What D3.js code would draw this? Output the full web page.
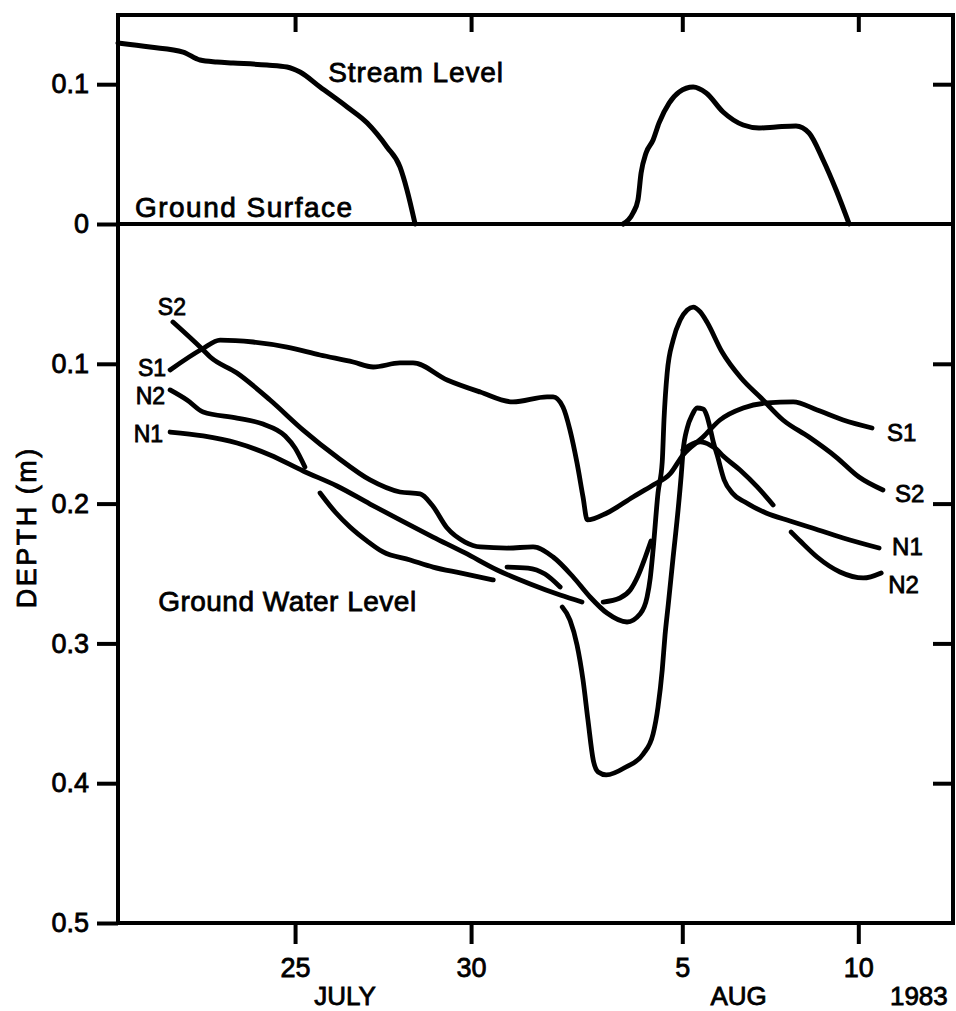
<!DOCTYPE html>
<html>
<head>
<meta charset="utf-8">
<script src="https://cdn.jsdelivr.net/npm/d3@7"></script>
<style>
  body { margin: 0; background: #fff; }
  svg text { font-family: "Liberation Sans", Arial, sans-serif; fill: #000; stroke: #000; stroke-width: 0.8px; }
</style>
</head>
<body>
<svg class="chart" width="956" height="1011"></svg>
<script>
const width = 956;
const height = 1011;
const margin = { top: 15, right: 3, bottom: 88, left: 118 };

// days are counted from 1 July 1983 (so 36 = 5 Aug)
const xTicks = [25, 30, 36, 41];
const xTickLabels = ["25", "30", "5", "10"];
const yTicks = [-0.1, 0, 0.1, 0.2, 0.3, 0.4, 0.5];
const yTickLabels = ["0.1", "0", "0.1", "0.2", "0.3", "0.4", "0.5"];
const yTicksRight = [-0.1, 0.1, 0.2, 0.3, 0.4];

// stream level above the ground surface (m), two wet periods
const streamLevel = [
  [[19.97, 0.1295], [20.88, 0.1266], [21.82, 0.123], [22.30, 0.1173], [22.78, 0.1159], [23.24, 0.1152],
   [24.20, 0.1137], [24.77, 0.1123], [25.14, 0.1087], [25.71, 0.098], [26.48, 0.0837], [27.05, 0.0722],
   [27.61, 0.0551], [27.98, 0.0408], [28.18, 0.0243], [28.41, 0]],
  [[34.32, 0], [34.60, 0.0079], [34.74, 0.0172], [34.83, 0.0365], [34.97, 0.0508], [35.17, 0.0601],
   [35.34, 0.0723], [35.63, 0.0866], [35.91, 0.0944], [36.31, 0.098], [36.68, 0.0937], [37.16, 0.0801],
   [37.73, 0.0708], [38.18, 0.0687], [38.66, 0.0694], [39.23, 0.0701], [39.60, 0.0651], [40.00, 0.0458],
   [40.37, 0.0243], [40.74, 0]]
];

// ground water depth below ground surface (m), one array per measured stretch
const wellS1 = [
  [[21.45, 0.1044], [22.36, 0.0894], [22.87, 0.083], [23.81, 0.0844], [24.77, 0.088], [25.71, 0.0937],
   [26.65, 0.0987], [27.22, 0.1023], [27.98, 0.0994], [28.35, 0.0994], [29.32, 0.1116], [30.26, 0.1202],
   [31.19, 0.1273], [32.16, 0.1237], [32.33, 0.1237], [32.61, 0.1309], [32.81, 0.1474], [33.01, 0.171],
   [33.18, 0.1953], [33.30, 0.2117], [33.86, 0.2067], [34.60, 0.1953], [35.17, 0.1867], [35.65, 0.1788],
   [36.02, 0.1652], [36.59, 0.1524], [37.07, 0.1402], [37.73, 0.1316], [38.41, 0.128], [39.15, 0.1273],
   [39.83, 0.133], [40.57, 0.1402], [41.39, 0.1459]]
];

const wellS2 = [
  [[21.53, 0.0701], [22.36, 0.0894], [22.59, 0.0951], [23.35, 0.1066], [24.29, 0.1259], [25.23, 0.1474],
   [26.19, 0.1667], [27.13, 0.1831], [27.98, 0.1917], [28.55, 0.1931], [28.89, 0.201], [29.32, 0.2175],
   [29.83, 0.2275], [30.26, 0.231], [31.02, 0.2318], [31.76, 0.231], [32.33, 0.2382], [32.90, 0.2525],
   [33.38, 0.2668], [33.86, 0.2783], [34.43, 0.2847], [34.80, 0.279], [35.00, 0.2668], [35.09, 0.2532],
   [35.17, 0.2332], [35.31, 0.1924], [35.43, 0.1702], [35.48, 0.1402], [35.57, 0.1066], [35.74, 0.083],
   [35.94, 0.0687], [36.14, 0.0615], [36.31, 0.0594], [36.51, 0.0629], [36.70, 0.0701], [37.13, 0.0916],
   [37.67, 0.1102], [38.24, 0.1245], [38.86, 0.1402], [39.60, 0.1524], [40.37, 0.1667], [41.02, 0.181],
   [41.70, 0.1903]]
];

const wellN1 = [
  [[21.45, 0.1488], [22.39, 0.1516], [23.35, 0.1567], [24.29, 0.1652], [25.23, 0.1767], [26.19, 0.1874],
   [27.13, 0.2003], [27.98, 0.2117], [28.92, 0.2239], [29.83, 0.2353], [30.74, 0.2475], [31.68, 0.2575],
   [32.53, 0.2654], [33.15, 0.2704]],
  [[32.59, 0.274], [32.81, 0.2833], [33.01, 0.3011], [33.18, 0.3262], [33.32, 0.3548], [33.47, 0.3834],
   [33.61, 0.392], [33.84, 0.3941], [34.40, 0.3884], [34.89, 0.3791], [35.17, 0.3648], [35.31, 0.3455],
   [35.43, 0.319], [35.51, 0.294], [35.60, 0.2725], [35.74, 0.2382], [35.88, 0.2046], [35.97, 0.1795],
   [36.02, 0.1631], [36.14, 0.1459], [36.28, 0.1366], [36.42, 0.1316], [36.59, 0.1323], [36.70, 0.1373],
   [36.79, 0.1459], [36.88, 0.1559], [36.99, 0.1652], [37.19, 0.1831], [37.42, 0.1924], [37.78, 0.1989],
   [38.38, 0.2067], [39.06, 0.2124], [39.60, 0.2167], [40.57, 0.2246], [41.59, 0.2318]]
];

const wellN2 = [
  [[21.45, 0.1187], [21.93, 0.1259], [22.39, 0.1345], [23.35, 0.1388], [24.09, 0.1431], [24.72, 0.1516],
   [25.00, 0.1602], [25.28, 0.1738]],
  [[25.71, 0.1924], [26.14, 0.206], [26.56, 0.2167], [27.05, 0.2268], [27.50, 0.2346], [28.27, 0.2403],
   [28.92, 0.2454], [29.69, 0.2496], [30.63, 0.2546]],
  [[31.02, 0.2454], [31.62, 0.2461], [32.10, 0.2504], [32.53, 0.2597]],
  [[33.75, 0.2704], [34.23, 0.2675], [34.52, 0.2618], [34.74, 0.2518], [34.94, 0.2389], [35.11, 0.2268]],
  [[36.02, 0.1617], [36.22, 0.1581], [36.51, 0.1559], [36.79, 0.1581], [36.96, 0.1609], [37.16, 0.166],
   [37.64, 0.176], [38.13, 0.1881], [38.58, 0.201]],
  [[39.09, 0.2203], [39.35, 0.2268], [39.83, 0.2382], [40.48, 0.2489], [41.14, 0.2532], [41.65, 0.2496]]
];

const wells = [
  { name: "S1", segments: wellS1, start: { dx: -4, dy: 6, anchor: "end" }, end: { dx: 15, dy: 13 } },
  { name: "S2", segments: wellS2, start: { dx: -1, dy: -7, anchor: "middle" }, end: { dx: 12, dy: 12 } },
  { name: "N1", segments: wellN1, start: { dx: -7, dy: 10, anchor: "end" }, end: { dx: 13, dy: 7 } },
  { name: "N2", segments: wellN2, start: { dx: -5, dy: 14, anchor: "end" }, end: { dx: 7, dy: 20 } }
];

const svg = d3.select(".chart");

const x = d3.scaleLinear()
  .domain([19.97, 43.69])
  .range([margin.left, width - margin.right]);

const y = d3.scaleLinear()
  .domain([-0.1495, 0.5])
  .range([margin.top, height - margin.bottom]);

const line = d3.line()
  .x(d => x(d[0]))
  .y(d => y(d[1]))
  .curve(d3.curveMonotoneX);

// axes
function styleAxis(g) {
  g.select(".domain").remove();
  g.selectAll(".tick line").attr("stroke", "#000").attr("stroke-width", 4);
  g.selectAll(".tick text").attr("fill", "#000").attr("font-family", null);
}

svg.append("g")
  .attr("transform", `translate(${margin.left},0)`)
  .call(d3.axisLeft(y).tickValues(yTicks).tickSize(21).tickPadding(8)
    .tickFormat((d, i) => yTickLabels[i]))
  .call(styleAxis)
  .selectAll("text").attr("font-size", 27);

svg.append("g")
  .attr("transform", `translate(${width - margin.right},0)`)
  .call(d3.axisLeft(y).tickValues(yTicksRight).tickSize(20).tickFormat(""))
  .call(styleAxis);

svg.append("g")
  .attr("transform", `translate(0,${height - margin.bottom})`)
  .call(d3.axisBottom(x).tickValues(xTicks).tickSize(21).tickPadding(14)
    .tickFormat((d, i) => xTickLabels[i]))
  .call(styleAxis)
  .selectAll("text").attr("font-size", 27);

svg.append("g")
  .attr("transform", `translate(0,${margin.top})`)
  .call(d3.axisBottom(x).tickValues(xTicks).tickSize(17).tickFormat(""))
  .call(styleAxis);

// frame and ground surface
svg.append("rect")
  .attr("x", margin.left)
  .attr("y", margin.top)
  .attr("width", width - margin.left - margin.right)
  .attr("height", height - margin.top - margin.bottom)
  .attr("fill", "none")
  .attr("stroke", "#000")
  .attr("stroke-width", 4);

svg.append("line")
  .attr("x1", margin.left)
  .attr("x2", width - margin.right)
  .attr("y1", y(0))
  .attr("y2", y(0))
  .attr("stroke", "#000")
  .attr("stroke-width", 4);

// stream level (plotted above ground surface)
svg.append("g")
  .selectAll("path")
  .data(streamLevel)
  .join("path")
  .attr("d", seg => line(seg.map(d => [d[0], -d[1]])))
  .attr("fill", "none")
  .attr("stroke", "#000")
  .attr("stroke-width", 5)
  .attr("stroke-linecap", "round")
  .attr("stroke-linejoin", "round");

// ground water curves
const wellGroups = svg.append("g")
  .selectAll("g")
  .data(wells)
  .join("g");

wellGroups.selectAll("path")
  .data(d => d.segments)
  .join("path")
  .attr("d", line)
  .attr("fill", "none")
  .attr("stroke", "#000")
  .attr("stroke-width", 4.8)
  .attr("stroke-linecap", "round")
  .attr("stroke-linejoin", "round");

wellGroups.append("text")
  .attr("x", d => x(d.segments[0][0][0]) + d.start.dx)
  .attr("y", d => y(d.segments[0][0][1]) + d.start.dy)
  .attr("text-anchor", d => d.start.anchor)
  .attr("font-size", 23)
  .text(d => d.name);

wellGroups.append("text")
  .attr("x", d => { const s = d.segments[d.segments.length - 1]; return x(s[s.length - 1][0]) + d.end.dx; })
  .attr("y", d => { const s = d.segments[d.segments.length - 1]; return y(s[s.length - 1][1]) + d.end.dy; })
  .attr("font-size", 24)
  .text(d => d.name);

// annotations
const notes = [
  { text: "Stream Level", day: 25.94, depth: -0.1016, spacing: 0.9 },
  { text: "Ground Surface", day: 20.45, depth: -0.005, spacing: 1.5 },
  { text: "Ground Water Level", day: 21.11, depth: 0.2768, spacing: 0.5 }
];

svg.append("g")
  .selectAll("text")
  .data(notes)
  .join("text")
  .attr("x", d => x(d.day))
  .attr("y", d => y(d.depth))
  .attr("font-size", 28)
  .attr("letter-spacing", d => d.spacing)
  .text(d => d.text);

// month / year labels under the axis
const monthLabels = [
  { text: "JULY", day: 26.42 },
  { text: "AUG", day: 37.6 },
  { text: "1983", day: 42.72 }
];

svg.append("g")
  .selectAll("text")
  .data(monthLabels)
  .join("text")
  .attr("x", d => x(d.day))
  .attr("y", height - margin.bottom + 82)
  .attr("text-anchor", "middle")
  .attr("font-size", 26)
  .text(d => d.text);

svg.append("text")
  .attr("transform", `translate(36,${y(0.217)}) rotate(-90)`)
  .attr("text-anchor", "middle")
  .attr("font-size", 27)
  .attr("letter-spacing", 2.5)
  .text("DEPTH (m)");
</script>
</body>
</html>
